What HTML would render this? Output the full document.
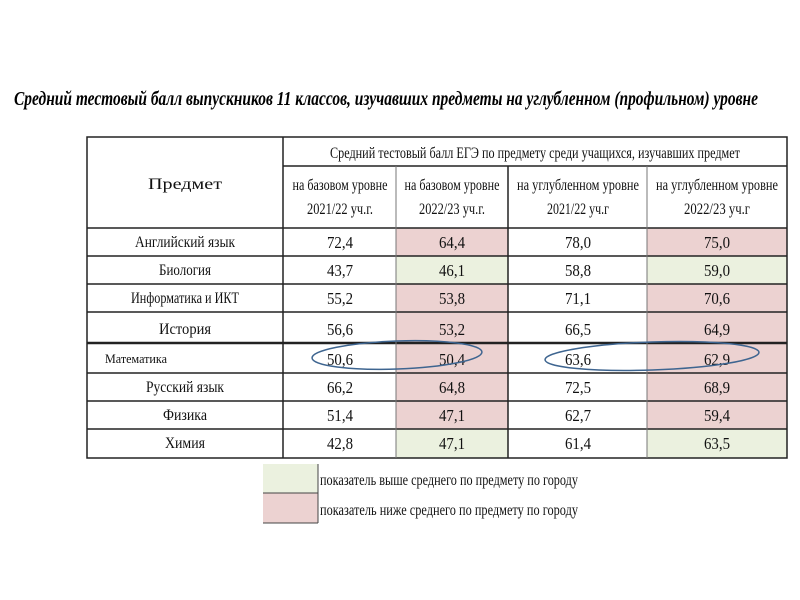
<!DOCTYPE html>
<html><head><meta charset="utf-8"><style>html,body{margin:0;padding:0;background:#fff}svg{display:block}</style></head>
<body>
<svg width="800" height="600" xmlns="http://www.w3.org/2000/svg" font-family="Liberation Serif, serif">
<text x="14" y="105" font-size="20" font-weight="bold" font-style="italic" textLength="744" lengthAdjust="spacingAndGlyphs">Средний тестовый балл выпускников 11 классов, изучавших предметы на углубленном (профильном) уровне</text>
<g fill="#ecd2d1">
<rect x="396" y="228" width="112" height="28"/>
<rect x="647" y="228" width="140" height="28"/>
<rect x="396" y="284" width="112" height="59"/>
<rect x="647" y="284" width="140" height="59"/>
<rect x="396" y="343" width="112" height="86"/>
<rect x="647" y="343" width="140" height="86"/>
<rect x="263" y="493" width="55" height="30"/>
</g>
<g fill="#ebf1df">
<rect x="396" y="256" width="112" height="28"/>
<rect x="647" y="256" width="140" height="28"/>
<rect x="396" y="429" width="112" height="29"/>
<rect x="647" y="429" width="140" height="29"/>
<rect x="263" y="464" width="55" height="29"/>
</g>
<g stroke="#222" stroke-width="1.5" fill="none">
<rect x="87" y="137" width="700" height="321"/>
<line x1="283" y1="137" x2="283" y2="458"/>
<line x1="283" y1="166" x2="787" y2="166"/>
<line x1="87" y1="228" x2="787" y2="228"/>
<line x1="87" y1="256" x2="787" y2="256"/>
<line x1="87" y1="284" x2="787" y2="284"/>
<line x1="87" y1="312" x2="787" y2="312"/>
<line x1="87" y1="343" x2="787" y2="343" stroke-width="2.5"/>
<line x1="87" y1="373" x2="787" y2="373"/>
<line x1="87" y1="401" x2="787" y2="401"/>
<line x1="87" y1="429" x2="787" y2="429"/>
<line x1="508" y1="166" x2="508" y2="458"/>
<line x1="396" y1="166" x2="396" y2="458" stroke="#777" stroke-width="1"/>
<line x1="647" y1="166" x2="647" y2="458" stroke="#777" stroke-width="1"/>
<line x1="318" y1="464" x2="318" y2="523" stroke="#444" stroke-width="1"/>
<line x1="263" y1="493" x2="318" y2="493" stroke="#444" stroke-width="1"/>
<line x1="263" y1="523" x2="318" y2="523" stroke="#444" stroke-width="1"/>
</g>
<g font-size="16" text-anchor="middle" fill="#111">
<text x="185" y="189" textLength="74" lengthAdjust="spacingAndGlyphs">Предмет</text>
<text x="535" y="158" textLength="410" lengthAdjust="spacingAndGlyphs">Средний тестовый балл  ЕГЭ по предмету среди учащихся, изучавших предмет</text>
<text x="340" y="190" textLength="95" lengthAdjust="spacingAndGlyphs">на базовом уровне</text>
<text x="340" y="214" textLength="66" lengthAdjust="spacingAndGlyphs">2021/22 уч.г.</text>
<text x="452" y="190" textLength="95" lengthAdjust="spacingAndGlyphs">на базовом уровне</text>
<text x="452" y="214" textLength="66" lengthAdjust="spacingAndGlyphs">2022/23 уч.г.</text>
<text x="578" y="190" textLength="122" lengthAdjust="spacingAndGlyphs">на углубленном уровне</text>
<text x="578" y="214" textLength="62" lengthAdjust="spacingAndGlyphs">2021/22 уч.г</text>
<text x="717" y="190" textLength="122" lengthAdjust="spacingAndGlyphs">на углубленном уровне</text>
<text x="717" y="214" textLength="66" lengthAdjust="spacingAndGlyphs">2022/23 уч.г</text>

<text x="185" y="247" textLength="100" lengthAdjust="spacingAndGlyphs">Английский язык</text>
<text x="185" y="275" textLength="52" lengthAdjust="spacingAndGlyphs">Биология</text>
<text x="185" y="303" textLength="108" lengthAdjust="spacingAndGlyphs">Информатика и ИКТ</text>
<text x="185" y="334" textLength="52" lengthAdjust="spacingAndGlyphs">История</text>
<text x="136" y="363" font-size="13" textLength="62" lengthAdjust="spacingAndGlyphs">Математика</text>
<text x="185" y="392" textLength="78" lengthAdjust="spacingAndGlyphs">Русский язык</text>
<text x="185" y="420" textLength="44" lengthAdjust="spacingAndGlyphs">Физика</text>
<text x="185" y="448" textLength="40" lengthAdjust="spacingAndGlyphs">Химия</text>
</g>
<g font-size="17" text-anchor="middle" fill="#111" lengthAdjust="spacingAndGlyphs">
<text x="340" y="248" textLength="26" lengthAdjust="spacingAndGlyphs">72,4</text><text x="452" y="248" textLength="26" lengthAdjust="spacingAndGlyphs">64,4</text><text x="578" y="248" textLength="26" lengthAdjust="spacingAndGlyphs">78,0</text><text x="717" y="248" textLength="26" lengthAdjust="spacingAndGlyphs">75,0</text>
<text x="340" y="276" textLength="26" lengthAdjust="spacingAndGlyphs">43,7</text><text x="452" y="276" textLength="26" lengthAdjust="spacingAndGlyphs">46,1</text><text x="578" y="276" textLength="26" lengthAdjust="spacingAndGlyphs">58,8</text><text x="717" y="276" textLength="26" lengthAdjust="spacingAndGlyphs">59,0</text>
<text x="340" y="304" textLength="26" lengthAdjust="spacingAndGlyphs">55,2</text><text x="452" y="304" textLength="26" lengthAdjust="spacingAndGlyphs">53,8</text><text x="578" y="304" textLength="26" lengthAdjust="spacingAndGlyphs">71,1</text><text x="717" y="304" textLength="26" lengthAdjust="spacingAndGlyphs">70,6</text>
<text x="340" y="335" textLength="26" lengthAdjust="spacingAndGlyphs">56,6</text><text x="452" y="335" textLength="26" lengthAdjust="spacingAndGlyphs">53,2</text><text x="578" y="335" textLength="26" lengthAdjust="spacingAndGlyphs">66,5</text><text x="717" y="335" textLength="26" lengthAdjust="spacingAndGlyphs">64,9</text>
<text x="340" y="365" textLength="26" lengthAdjust="spacingAndGlyphs">50,6</text><text x="452" y="365" textLength="26" lengthAdjust="spacingAndGlyphs">50,4</text><text x="578" y="365" textLength="26" lengthAdjust="spacingAndGlyphs">63,6</text><text x="717" y="365" textLength="26" lengthAdjust="spacingAndGlyphs">62,9</text>
<text x="340" y="393" textLength="26" lengthAdjust="spacingAndGlyphs">66,2</text><text x="452" y="393" textLength="26" lengthAdjust="spacingAndGlyphs">64,8</text><text x="578" y="393" textLength="26" lengthAdjust="spacingAndGlyphs">72,5</text><text x="717" y="393" textLength="26" lengthAdjust="spacingAndGlyphs">68,9</text>
<text x="340" y="421" textLength="26" lengthAdjust="spacingAndGlyphs">51,4</text><text x="452" y="421" textLength="26" lengthAdjust="spacingAndGlyphs">47,1</text><text x="578" y="421" textLength="26" lengthAdjust="spacingAndGlyphs">62,7</text><text x="717" y="421" textLength="26" lengthAdjust="spacingAndGlyphs">59,4</text>
<text x="340" y="449" textLength="26" lengthAdjust="spacingAndGlyphs">42,8</text><text x="452" y="449" textLength="26" lengthAdjust="spacingAndGlyphs">47,1</text><text x="578" y="449" textLength="26" lengthAdjust="spacingAndGlyphs">61,4</text><text x="717" y="449" textLength="26" lengthAdjust="spacingAndGlyphs">63,5</text>
</g>
<g font-size="16" fill="#111">
<text x="320" y="485" textLength="258" lengthAdjust="spacingAndGlyphs">показатель выше среднего по предмету по городу</text>
<text x="320" y="515" textLength="258" lengthAdjust="spacingAndGlyphs">показатель ниже среднего по предмету по городу</text>
</g>
<g fill="none" stroke="#3e6590" stroke-width="1.5">
<ellipse cx="397" cy="355" rx="85" ry="14" transform="rotate(-2 397 355)"/>
<ellipse cx="652" cy="356" rx="107" ry="14" transform="rotate(-2 652 356)"/>
</g>
</svg>
</body></html>
